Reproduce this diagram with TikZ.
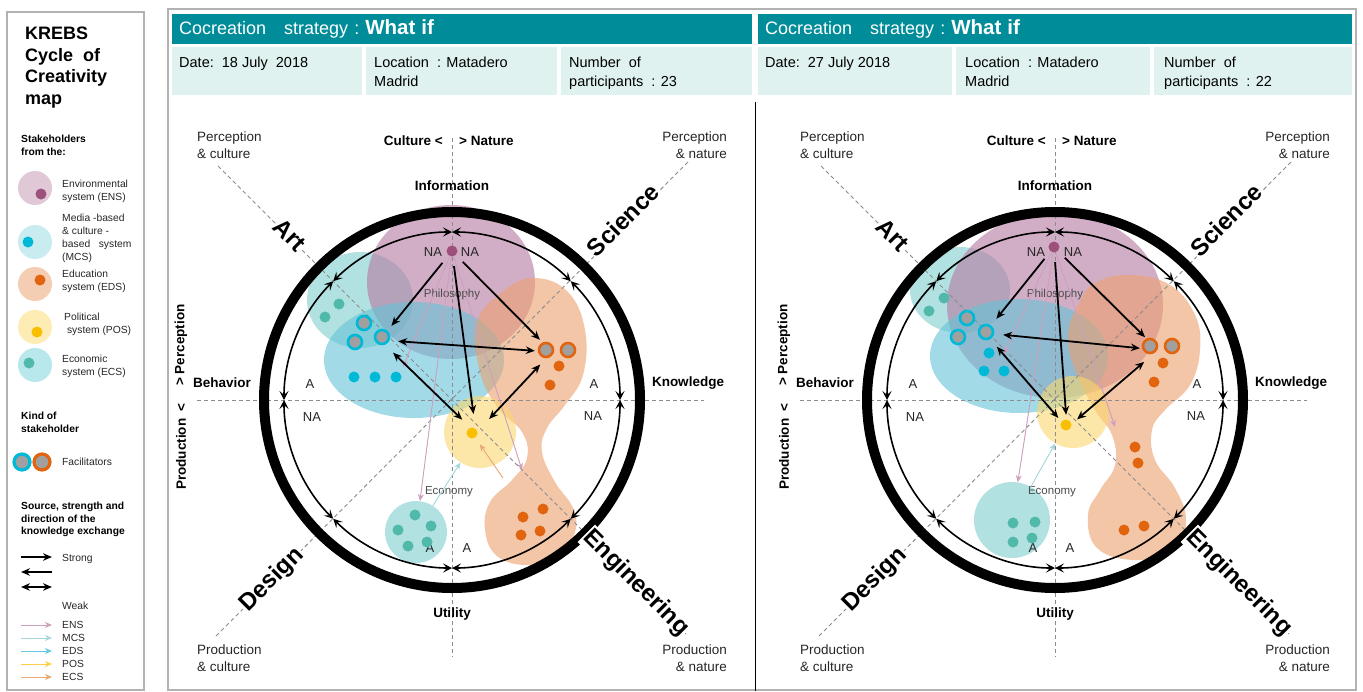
\documentclass[tikz,border=0pt]{standalone}
\usepackage{fontspec}
\setmainfont{Liberation Sans}
\usetikzlibrary{arrows.meta}
\usetikzlibrary{positioning}

\definecolor{headteal}{RGB}{0,140,152}
\definecolor{infoteal}{RGB}{223,242,240}
\definecolor{ensbase}{RGB}{180,120,160}
\definecolor{mcsbase}{RGB}{100,195,215}
\definecolor{ecsbase}{RGB}{125,205,205}
\definecolor{edsbase}{RGB}{235,160,110}
\definecolor{posbase}{RGB}{250,215,110}
\definecolor{ensdot}{RGB}{158,80,125}
\definecolor{mcsdot}{RGB}{0,185,215}
\definecolor{ecsdot}{RGB}{80,185,170}
\definecolor{edsdot}{RGB}{225,100,15}
\definecolor{posdot}{RGB}{250,190,0}
\definecolor{facgray}{RGB}{160,160,160}
\definecolor{ensbg}{RGB}{225,200,215}
\definecolor{mcsbg}{RGB}{200,236,240}
\definecolor{edsbg}{RGB}{245,205,178}
\definecolor{posbg}{RGB}{253,236,180}
\definecolor{ecsbg}{RGB}{185,232,236}
\definecolor{weakens}{RGB}{205,160,190}
\definecolor{weakmcs}{RGB}{165,215,220}
\definecolor{weakeds}{RGB}{100,200,225}
\definecolor{weakpos}{RGB}{255,205,70}
\definecolor{weakecs}{RGB}{230,170,120}

\begin{document}
\begin{tikzpicture}[x=1pt, y=-1pt]
    \tikzstyle{frameline}=[draw=black!30, line width=1.3pt]
    \tikzstyle{headbar}=[fill=headteal, text=white, anchor=north west, inner xsep=7pt, inner ysep=0pt, minimum height=30pt, align=left, font=\fontsize{18}{20}\selectfont]
    \tikzstyle{infobox}=[fill=infoteal, anchor=north west, inner sep=0pt, minimum height=48pt]
    \tikzstyle{infotext}=[inner sep=0pt, align=left, font=\fontsize{14.5}{19}\selectfont]
    \tikzstyle{axisline}=[draw=black!45, line width=0.9pt, dash pattern=on 4pt off 3pt]
    \tikzstyle{ringthick}=[line width=10pt]
    \tikzstyle{cyclearc}=[line width=1.6pt, >={Stealth[length=9pt, width=9pt, inset=4pt]}, <->]
    \tikzstyle{polelabel}=[inner sep=0pt, font=\fontsize{13.5}{16}\selectfont\bfseries]
    \tikzstyle{cornerlabel}=[inner sep=0pt, align=left, text=black!85, font=\fontsize{13.5}{17}\selectfont]
    \tikzstyle{sectorlabel}=[fill=white, inner sep=1pt, font=\fontsize{24}{26}\selectfont\bfseries]
    \tikzstyle{azone}=[inner sep=0pt, text=black!85, font=\fontsize{13}{15}\selectfont]
    \tikzstyle{themelabel}=[inner sep=0pt, text=black!70, font=\fontsize{11.5}{13}\selectfont]
    \tikzstyle{hubnode}=[circle, inner sep=0pt]
    \tikzstyle{stakedot}=[circle, inner sep=0pt, minimum size=11pt]
    \tikzstyle{facil}=[circle, inner sep=0pt, minimum size=14pt, line width=2.6pt, fill=facgray]
    \tikzstyle{blob}=[fill opacity=0.6]
    \tikzstyle{strongx}=[line width=1.8pt, >={Stealth[length=9pt, width=7.5pt]}]
    \tikzstyle{weakx}=[line width=0.9pt, >={Stealth[length=7pt, width=6pt]}, ->]
    \tikzstyle{legblob}=[circle, inner sep=0pt, minimum size=34pt]
    \tikzstyle{leghead}=[inner sep=0pt, align=left, font=\fontsize{10.3}{12.5}\selectfont\bfseries]
    \tikzstyle{legtext}=[inner sep=0pt, align=left, text=black!85, font=\fontsize{10.3}{13}\selectfont]

    \useasboundingbox (0,0) rectangle (1363,691);

    % Legend
    \draw[frameline] (7,12) rectangle (144,690);
    \node[anchor=north west, align=left, inner sep=0pt, font=\fontsize{18}{21.5}\selectfont\bfseries] (legTitle) at (25,27) {KREBS\\Cycle\ \ of\\Creativity\\map};
    \node[leghead, anchor=north west] (legFrom) at (21,135) {Stakeholders\\from the:};
    \node[legblob, fill=ensbg] (legEns) at (35,188) {};
    \node[stakedot, fill=ensdot] (legEnsDot) at (41,194) {};
    \node[legtext, anchor=west] (legEnsTxt) at (62,191) {Environmental\\system (ENS)};
    \node[legblob, fill=mcsbg] (legMcs) at (35,242) {};
    \node[stakedot, fill=mcsdot] (legMcsDot) at (28,242) {};
    \node[legtext, anchor=west] (legMcsTxt) at (62,238.5) {Media -based\\\& culture -\\based\ \ \ system\\(MCS)};
    \node[legblob, fill=edsbg] (legEds) at (35,284) {};
    \node[stakedot, fill=edsdot] (legEdsDot) at (40,280) {};
    \node[legtext, anchor=west] (legEdsTxt) at (62,281.5) {Education\\system (EDS)};
    \node[legblob, fill=posbg] (legPos) at (35,327) {};
    \node[stakedot, fill=posdot] (legPosDot) at (37,332) {};
    \node[legtext, anchor=west] (legPosTxt) at (64,324.5) {Political\\\ system (POS)};
    \node[legblob, fill=ecsbg] (legEcs) at (35,365) {};
    \node[stakedot, fill=ecsdot] (legEcsDot) at (29,363) {};
    \node[legtext, anchor=west] (legEcsTxt) at (62,366.5) {Economic\\system (ECS)};
    \node[leghead, anchor=north west] (legKind) at (21,412) {Kind of\\stakeholder};
    \node[facil, draw=mcsdot, minimum size=16pt, line width=3.2pt] (legFacA) at (22,462) {};
    \node[facil, draw=edsdot, minimum size=16pt, line width=3.2pt] (legFacB) at (42,462) {};
    \node[legtext, anchor=west] (legFacTxt) at (62,462) {Facilitators};
    \node[leghead, anchor=north west] (legSrc) at (21,502) {Source, strength and\\direction of the\\knowledge exchange};
    \coordinate (legS1a) at (21,557); \coordinate (legS1b) at (52,557);
    \coordinate (legS2a) at (21,572); \coordinate (legS2b) at (52,572);
    \coordinate (legS3a) at (21,587); \coordinate (legS3b) at (52,587);
    \draw[strongx, ->] (legS1a) -- (legS1b);
    \draw[strongx, <-] (legS2a) -- (legS2b);
    \draw[strongx, <->] (legS3a) -- (legS3b);
    \node[legtext, anchor=west] (legStrong) at (62,559) {Strong};
    \node[legtext, anchor=west] (legWeak) at (62,606) {Weak};
    \foreach \y/\c/\t in {625/weakens/ENS, 638/weakmcs/MCS, 651/weakeds/EDS, 664/weakpos/POS, 677/weakecs/ECS} {
      \coordinate (legW\t a) at (21,\y);
      \coordinate (legW\t b) at (52,\y);
      \draw[weakx, draw=\c, fill=\c] (legW\t a) -- (legW\t b);
      \node[legtext, anchor=west] (legW\t) at (62,\y) {\t};
    }

    % Headers
    \draw[frameline] (168,9) rectangle (1356,690);
    \node[headbar, text width=566pt] (headL) at (172,14) {Cocreation\ \ \ strategy\ :\ {\fontsize{20.5}{22}\selectfont\bfseries What if}};
    \node[headbar, text width=580pt] (headR) at (758,14) {Cocreation\ \ \ strategy\ :\ {\fontsize{20.5}{22}\selectfont\bfseries What if}};
    \node[infobox, minimum width=190pt] (dateL) at (172,47) {};
    \node[infobox, minimum width=191pt] (placeL) at (366,47) {};
    \node[infobox, minimum width=191pt] (countL) at (561,47) {};
    \node[infobox, minimum width=194pt] (dateR) at (758,47) {};
    \node[infobox, minimum width=194pt] (placeR) at (956,47) {};
    \node[infobox, minimum width=198pt] (countR) at (1154,47) {};
    \node[infotext, below right=10pt and 7pt of dateL.north west] (dateTxtL) {Date:\ \ 18 July\ \ 2018};
    \node[infotext, below right=10pt and 8pt of placeL.north west] (placeTxtL) {Location\ \ : Matadero\\Madrid};
    \node[infotext, below right=10pt and 8pt of countL.north west] (countTxtL) {Number\ \ of\\participants\ \ : 23};
    \node[infotext, below right=10pt and 7pt of dateR.north west] (dateTxtR) {Date:\ \ 27 July 2018};
    \node[infotext, below right=10pt and 9pt of placeR.north west] (placeTxtR) {Location\ \ : Matadero\\Madrid};
    \node[infotext, below right=10pt and 10pt of countR.north west] (countTxtR) {Number\ \ of\\participants\ \ : 22};
    \draw[line width=1pt] (755,102) -- (755,691);

    % Stakeholder areas, first session
    \fill[blob, fill=ecsbase] (360,300) ellipse [x radius=53pt, y radius=48pt];
    \fill[blob, fill=ensbase] (451,282) ellipse [x radius=84pt, y radius=77pt];
    \fill[blob, fill=mcsbase] (414,360) ellipse [x radius=90pt, y radius=58pt];
    \fill[blob, fill=edsbase] plot[smooth cycle, tension=0.7] coordinates {(505,290) (535,278) (568,292) (585,330) (583,375) (565,405) (547,428) (542,452) (555,482) (573,508) (575,532) (560,555) (528,565) (497,556) (485,530) (490,502) (512,480) (527,458) (522,432) (498,408) (480,372) (477,322)};
    \node[hubnode, blob, fill=posbase, minimum size=72pt] (posBlobL) at (480,432) {};
    \node[hubnode, blob, fill=ecsbase, minimum size=62pt] (ecsLowL) at (416,532) {};

    % Stakeholder areas, second session
    \fill[blob, fill=ecsbase] (960,290) ellipse [x radius=50pt, y radius=43pt];
    \fill[blob, fill=ensbase] (1055,305) ellipse [x radius=108pt, y radius=93pt];
    \fill[blob, fill=mcsbase] (1019,356) ellipse [x radius=89pt, y radius=57pt];
    \fill[blob, fill=edsbase] plot[smooth cycle, tension=0.7] coordinates {(1078,305) (1095,283) (1130,275) (1170,285) (1195,315) (1200,350) (1190,385) (1165,410) (1152,430) (1155,460) (1175,488) (1186,520) (1175,550) (1135,560) (1097,548) (1088,515) (1100,490) (1115,465) (1112,435) (1095,410) (1075,370) (1068,335)};
    \node[hubnode, blob, fill=posbase, minimum size=72pt] (posBlobR) at (1073,412) {};
    \node[hubnode, blob, fill=ecsbase, minimum size=76pt] (ecsLowR) at (1012,520) {};

    % Krebs cycle frames
    \foreach \cx/\side in {452/L, 1055/R} {
      \begin{scope}[shift={(\cx,400)}]
        \coordinate (c\side) at (0,0);
        \draw[axisline] (0,-262) -- (0,257);
        \draw[axisline] (-255,0) -- (252,0);
        \draw[axisline] (-234,-234) -- (236,236);
        \draw[axisline] (-236,236) -- (236,-238);
        \draw[ringthick] (c\side) circle[radius=188pt];
        \foreach \a in {0,45,...,315}
          \draw[cyclearc] (\a:168pt) arc[start angle=\a, delta angle=45, radius=168pt];
        \node[polelabel, anchor=east] (cul\side) at (-9,-259) {Culture <};
        \node[polelabel, anchor=west] (nat\side) at (7,-259) {> Nature};
        \node[polelabel] (inf\side) at (0,-214) {Information};
        \node[polelabel] (uti\side) at (0,214) {Utility};
        \node[polelabel] (beh\side) at (-230,-17) {Behavior};
        \node[polelabel] (kno\side) at (236,-17) {Knowledge};
        \node[polelabel, rotate=90, anchor=east] (pro\side) at (-271,3) {Production\ \ <};
        \node[polelabel, rotate=90, anchor=west] (per\side) at (-271,-14) {> Perception};
        \node[cornerlabel, anchor=north west] (pcul\side) at (-255,-268) {Perception\\\& culture};
        \node[cornerlabel, anchor=north east, align=right] (pnat\side) at (275,-268) {Perception\\\& nature};
        \node[cornerlabel, anchor=north west] (dcul\side) at (-255,245) {Production\\\& culture};
        \node[cornerlabel, anchor=north east, align=right] (dnat\side) at (275,245) {Production\\\& nature};
        \node[sectorlabel, rotate=-45] (art\side) at (-162,-165) {Art};
        \node[sectorlabel, rotate=45] (sci\side) at (171,-180) {Science};
        \node[sectorlabel, rotate=45] (des\side) at (-180,180) {Design};
        \node[sectorlabel, rotate=-45] (eng\side) at (184,183) {Engineering};
        \node[azone] (aw\side) at (-142,-16) {A};
        \node[azone] (naw\side) at (-140,17) {NA};
        \node[azone] (ae\side) at (142,-16) {A};
        \node[azone] (nae\side) at (141,16) {NA};
        \node[azone] (nan\side) at (-19,-148) {NA};
        \node[azone] (nam\side) at (18,-148) {NA};
        \node[azone] (as\side) at (-22,148) {A};
        \node[azone] (at\side) at (15,148) {A};
        \node[themelabel] (phi\side) at (0,-105) {Philosophy};
        \node[themelabel] (eco\side) at (-3,92) {Economy};
      \end{scope}
    }

    % Stakeholders, first session
    \node[hubnode, minimum size=30pt] (ensL) at (452,251) {};
    \node[hubnode, minimum size=36pt] (mcsL) at (380,340) {};
    \node[hubnode, minimum size=34pt] (edsL) at (552,352) {};
    \node[hubnode, minimum size=38pt] (posL) at (476,433) {};
    \node[stakedot, fill=ensdot] (ensDotL) at (452,251) {};
    \node[facil, draw=mcsdot] (mcsF1L) at (364,323) {};
    \node[facil, draw=mcsdot] (mcsF2L) at (355,342) {};
    \node[facil, draw=mcsdot] (mcsF3L) at (382,337) {};
    \node[stakedot, fill=mcsdot] (mcs1L) at (354,377) {};
    \node[stakedot, fill=mcsdot] (mcs2L) at (375,377) {};
    \node[stakedot, fill=mcsdot] (mcs3L) at (396,377) {};
    \node[stakedot, fill=ecsdot] (ecs1L) at (325,317) {};
    \node[stakedot, fill=ecsdot] (ecs2L) at (339,304) {};
    \node[facil, draw=edsdot] (edsF1L) at (546,350) {};
    \node[facil, draw=edsdot] (edsF2L) at (568,350) {};
    \node[stakedot, fill=edsdot] (eds1L) at (559,366) {};
    \node[stakedot, fill=edsdot] (eds2L) at (550,385) {};
    \node[stakedot, fill=edsdot] (eds3L) at (523,517) {};
    \node[stakedot, fill=edsdot] (eds4L) at (543,509) {};
    \node[stakedot, fill=edsdot] (eds5L) at (521,535) {};
    \node[stakedot, fill=edsdot] (eds6L) at (540,531) {};
    \node[stakedot, fill=posdot] (posDotL) at (472,433) {};
    \node[stakedot, fill=ecsdot] (ecs3L) at (415,515) {};
    \node[stakedot, fill=ecsdot] (ecs4L) at (398,530) {};
    \node[stakedot, fill=ecsdot] (ecs5L) at (431,526) {};
    \node[stakedot, fill=ecsdot] (ecs6L) at (408,546) {};
    \node[stakedot, fill=ecsdot] (ecs7L) at (427,542) {};

    % Exchanges, first session
    \coordinate (ensToMcsL) at (403,367);
    \coordinate (ensToEdsL) at (522,470);
    \coordinate (edsToPosL) at (503,478);
    \draw[weakx, draw=weakens, fill=weakens] (ensDotL) -- (ensToMcsL);
    \draw[weakx, draw=weakens, fill=weakens] (ensDotL) -- (ecsLowL);
    \draw[weakx, draw=weakens, fill=weakens] (ensDotL) -- (ensToEdsL);
    \draw[weakx, draw=weakmcs, fill=weakmcs] (ecsLowL) -- (posBlobL);
    \draw[weakx, draw=weakecs, fill=weakecs, shorten >=8pt] (edsToPosL) -- (posDotL);
    \draw[strongx, ->] (ensL) -- (mcsL);
    \draw[strongx, ->] (ensL) -- (edsL);
    \draw[strongx, ->] (ensL) -- (posL);
    \draw[strongx, <->] (mcsL) -- (edsL);
    \draw[strongx, <->] (mcsL) -- (posL);
    \draw[strongx, <->] (edsL) -- (posL);

    % Stakeholders, second session
    \node[hubnode, minimum size=30pt] (ensR) at (1054,247) {};
    \node[hubnode, minimum size=36pt] (mcsR) at (985,333) {};
    \node[hubnode, minimum size=36pt] (edsR) at (1158,350) {};
    \node[hubnode, minimum size=26pt] (posR) at (1067,428) {};
    \node[stakedot, fill=ensdot] (ensDotR) at (1054,247) {};
    \node[stakedot, fill=ecsdot] (ecs1R) at (929,311) {};
    \node[stakedot, fill=ecsdot] (ecs2R) at (944,298) {};
    \node[facil, draw=mcsdot] (mcsF1R) at (967,318) {};
    \node[facil, draw=mcsdot] (mcsF2R) at (958,337) {};
    \node[facil, draw=mcsdot] (mcsF3R) at (986,332) {};
    \node[stakedot, fill=mcsdot] (mcs1R) at (989,353) {};
    \node[stakedot, fill=mcsdot] (mcs2R) at (984,371) {};
    \node[stakedot, fill=mcsdot] (mcs3R) at (1004,371) {};
    \node[facil, draw=edsdot] (edsF1R) at (1150,346) {};
    \node[facil, draw=edsdot] (edsF2R) at (1172,346) {};
    \node[stakedot, fill=edsdot] (eds1R) at (1163,363) {};
    \node[stakedot, fill=edsdot] (eds2R) at (1154,382) {};
    \node[stakedot, fill=edsdot] (eds3R) at (1135,447) {};
    \node[stakedot, fill=edsdot] (eds4R) at (1138,463) {};
    \node[stakedot, fill=edsdot] (eds5R) at (1124,530) {};
    \node[stakedot, fill=edsdot] (eds6R) at (1144,526) {};
    \node[stakedot, fill=posdot] (posDotR) at (1066,425) {};
    \node[stakedot, fill=ecsdot] (ecs3R) at (1013,523) {};
    \node[stakedot, fill=ecsdot] (ecs4R) at (1035,522) {};
    \node[stakedot, fill=ecsdot] (ecs5R) at (1013,542) {};
    \node[stakedot, fill=ecsdot] (ecs6R) at (1032,538) {};

    % Exchanges, second session
    \coordinate (ensToMcsR) at (1004,354);
    \coordinate (ensToEdsR) at (1115,427);
    \draw[weakx, draw=weakens, fill=weakens] (ensDotR) -- (ensToMcsR);
    \draw[weakx, draw=weakens, fill=weakens] (ensDotR) -- (ecsLowR);
    \draw[weakx, draw=weakens, fill=weakens] (ensDotR) -- (ensToEdsR);
    \draw[weakx, draw=weakmcs, fill=weakmcs] (ecsLowR) -- (posBlobR);
    \draw[strongx, ->] (ensR) -- (mcsR);
    \draw[strongx, ->] (ensR) -- (edsR);
    \draw[strongx, ->] (ensR) -- (posR);
    \draw[strongx, <->] (mcsR) -- (edsR);
    \draw[strongx, <->] (mcsR) -- (posR);
    \draw[strongx, <->] (edsR) -- (posR);
\end{tikzpicture}
\end{document}
